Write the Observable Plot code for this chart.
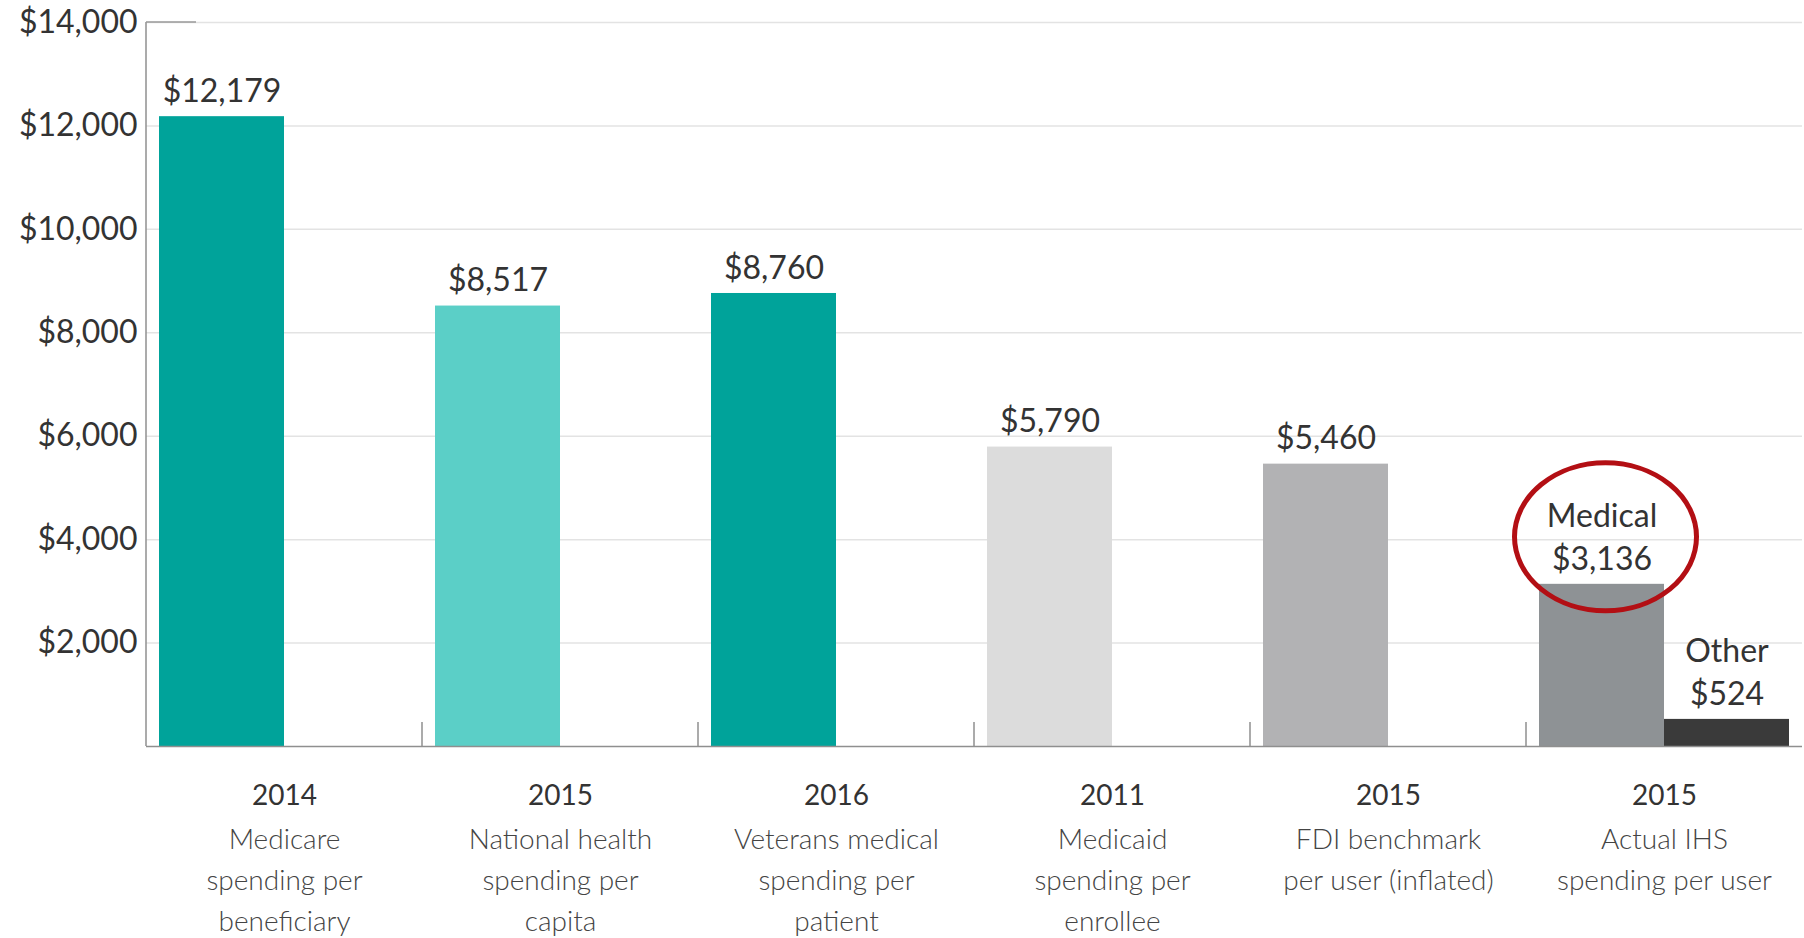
<!DOCTYPE html>
<html><head><meta charset="utf-8">
<script src="https://cdn.jsdelivr.net/npm/d3@7"></script>
<script src="https://cdn.jsdelivr.net/npm/@observablehq/plot@0.6"></script>
<style>
html,body{margin:0;padding:0;background:#fff;}
#chart{width:1804px;height:938px;}
</style></head><body><div id="chart"></div>
<script>
// ---- data ----
const years = ["2014", "2015", "2016", "2011", "2015", "2015"];
const descriptions = [
  "Medicare\nspending per\nbeneficiary",
  "National health\nspending per\ncapita",
  "Veterans medical\nspending per\npatient",
  "Medicaid\nspending per\nenrollee",
  "FDI benchmark\nper user (inflated)",
  "Actual IHS\nspending per user"
];
const mainValues = [12179, 8517, 8760, 5790, 5460, 3136];
const otherValues = [null, null, null, null, null, 524];
const parts = ["Medical", "Other"];
const yTicks = [2000, 4000, 6000, 8000, 10000, 12000, 14000];

// ---- styles ----
const mainColors = ["#00A39A", "#5BCFC7", "#00A39A", "#DCDCDC", "#B2B2B4", "#8E9295"];
const otherColor = "#3A3A3A";

// ---- table ----
const categories = descriptions.map((d, i) => years[i] + " " + d);
const bars = [];
categories.forEach((c, i) => {
  const split = otherValues[i] != null;
  bars.push({category: c, part: parts[0], value: mainValues[i], key: "m" + i, label: split ? parts[0] : null});
  if (split) bars.push({category: c, part: parts[1], value: otherValues[i], key: "o" + i, label: parts[1]});
});
const colorDomain = bars.map(d => d.key);
const colorRange = bars.map(d => d.key[0] === "m" ? mainColors[+d.key.slice(1)] : otherColor);
const money = d => "$" + d3.format(",")(d);
const FONT = "Lato, 'Open Sans', sans-serif";

const plot = Plot.plot({
  width: 1804, height: 938,
  marginLeft: 143, marginRight: 0, marginTop: 22, marginBottom: 192,
  style: {fontFamily: FONT, background: "#fff"},
  fx: {domain: categories, padding: 0, axis: null},
  x: {domain: parts, paddingInner: 0, paddingOuter: 0.1, axis: null},
  y: {domain: [0, 14000], axis: null},
  color: {domain: colorDomain, range: colorRange},
  marks: [
    Plot.ruleY(yTicks, {stroke: "#e3e3e3", strokeWidth: 1.5}),
    Plot.barY(bars, {fx: "category", x: "part", y: "value", fill: "key"}),
    Plot.ruleY([0], {stroke: "#8f8f8f", strokeWidth: 1.5}),
    Plot.text(bars, {fx: "category", x: "part", y: "value", text: d => money(d.value),
      dy: -25, fontSize: 32, fill: "#333"}),
    Plot.text(bars.filter(d => d.label), {fx: "category", x: "part", y: "value", text: "label",
      dy: -68, fontSize: 32, fill: "#333"}),
    Plot.text(yTicks, {fx: () => categories[0], y: d => d, text: d => money(d),
      frameAnchor: "left", textAnchor: "end", dx: -9, fontSize: 32, fill: "#333"}),
    Plot.text(categories, {fx: d => d, text: (d, i) => years[i], frameAnchor: "bottom",
      dy: 58, fontSize: 28, fill: "#333"}),
    Plot.text(categories, {fx: d => d, text: (d, i) => descriptions[i], frameAnchor: "bottom",
      lineAnchor: "top", dy: 73, lineHeight: 1.47, fontSize: 28, fontWeight: 300, fill: "#444"})
  ]
});
document.getElementById("chart").appendChild(plot);

// ---- decorations anchored on the plot's scales ----
const svg = d3.select(plot);
const fxs = plot.scale("fx"), ys = plot.scale("y");
const y0 = ys.apply(0), yTop = ys.apply(14000);
const deco = svg.append("g");
const axisX = fxs.apply(categories[0]);
deco.append("line").attr("x1", axisX).attr("x2", axisX).attr("y1", yTop).attr("y2", y0)
  .attr("stroke", "#8f8f8f").attr("stroke-width", 1.5);
deco.append("line").attr("x1", axisX).attr("x2", axisX + 50).attr("y1", yTop).attr("y2", yTop)
  .attr("stroke", "#9a9a9a").attr("stroke-width", 1.5);
categories.slice(1).forEach(c => {
  const x = fxs.apply(c);
  deco.append("line").attr("x1", x).attr("x2", x).attr("y1", y0 - 24).attr("y2", y0)
    .attr("stroke", "#8f8f8f").attr("stroke-width", 1.5);
});
// red ellipse around the IHS medical label
const svgBox = plot.getBoundingClientRect();
const medColor = mainColors[5];
let medRect = null;
svg.selectAll("rect").each(function() {
  if ((this.getAttribute("fill") || "").toLowerCase() === medColor.toLowerCase()) medRect = this;
});
if (medRect) {
  const b = medRect.getBoundingClientRect();
  deco.append("ellipse")
    .attr("cx", b.left - svgBox.left + b.width / 2 + 4)
    .attr("cy", b.top - svgBox.top - 47)
    .attr("rx", 91).attr("ry", 74)
    .attr("fill", "none").attr("stroke", "#B30F14").attr("stroke-width", 5);
}
</script></body></html>
